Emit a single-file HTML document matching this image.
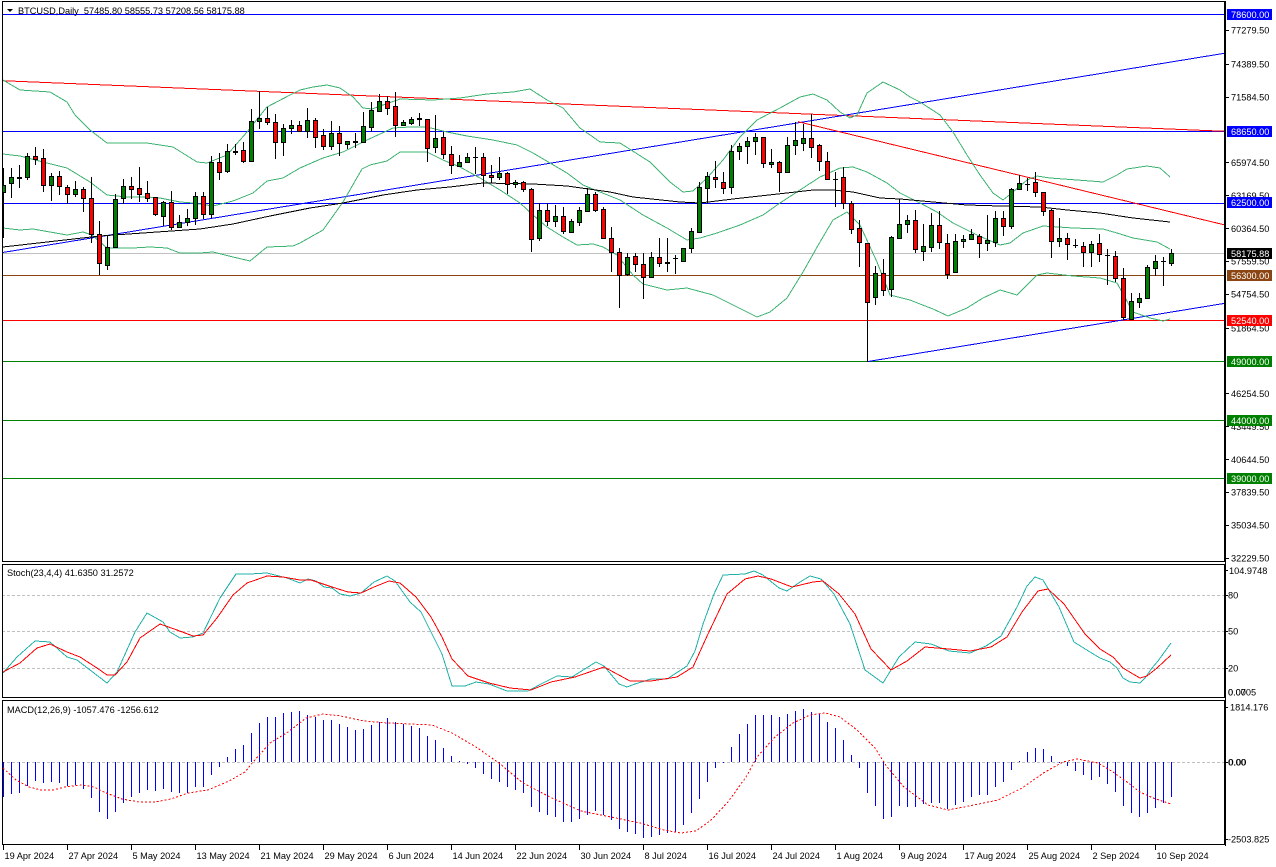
<!DOCTYPE html>
<html><head><meta charset="utf-8"><style>
html,body{margin:0;padding:0;background:#fff;}
svg{display:block;}
text{font-family:"Liberation Sans",Arial,sans-serif;font-size:9.2px;fill:#000;}
.w{fill:#fff;}
</style></head><body>
<svg width="1276" height="867" viewBox="0 0 1276 867" xmlns="http://www.w3.org/2000/svg">
<defs>
<clipPath id="cm"><rect x="2" y="1" width="1223" height="561"/></clipPath>
<clipPath id="cs"><rect x="2" y="564" width="1223" height="134"/></clipPath>
<clipPath id="cd"><rect x="2" y="700" width="1223" height="145"/></clipPath>
</defs>
<rect width="1276" height="867" fill="#fff"/>

<!-- MAIN PANEL -->
<g clip-path="url(#cm)" shape-rendering="crispEdges" fill="none" stroke-width="1">
<line x1="2" y1="14.5" x2="1225" y2="14.5" stroke="#0000ff"/>
<line x1="2" y1="131.5" x2="1225" y2="131.5" stroke="#0000ff"/>
<line x1="2" y1="203.5" x2="1225" y2="203.5" stroke="#0000ff"/>
<line x1="2" y1="253.5" x2="1225" y2="253.5" stroke="#c0c0c0"/>
<line x1="2" y1="275.5" x2="1225" y2="275.5" stroke="#8b4513"/>
<line x1="2" y1="320.5" x2="1225" y2="320.5" stroke="#ff0000"/>
<line x1="2" y1="361.5" x2="1225" y2="361.5" stroke="#008000"/>
<line x1="2" y1="420.5" x2="1225" y2="420.5" stroke="#008000"/>
<line x1="2" y1="478.5" x2="1225" y2="478.5" stroke="#008000"/>
<line x1="2" y1="80.7" x2="1225" y2="131.3" stroke="#ff0000"/>
<line x1="2" y1="252.6" x2="1225" y2="53.2" stroke="#0000ff"/>
<line x1="798" y1="121.7" x2="1225" y2="225" stroke="#ff0000"/>
<line x1="868" y1="361.5" x2="1225" y2="303.3" stroke="#0000ff"/>

<polyline stroke="#3cb371" points="3,80 20,90 50,92 67,102 75,115 90,130 107,143 147,143 173,147 197,162 207,163 227,155 247,132 267,107 290,95 300,90 313,87 327,85 340,88 353,97 363,108 372,109 383,105 400,99 433,100 460,98 487,94 513,92 530,89 547,100 563,108 580,128 593,137 600,142 620,143 650,162 670,182 683,192 693,191 707,178 723,160 740,137 757,120 780,108 800,97 813,94 827,100 840,112 850,118 857,115 867,93 883,82 900,90 910,97 920,102 940,115 953,132 967,155 980,175 993,193 1003,200 1013,192 1027,180 1037,176 1050,178 1077,180 1103,182 1117,175 1127,169 1147,166 1160,168 1170,177"/>
<polyline stroke="#3cb371" points="3,154 20,156 43,162 67,168 90,182 107,195 127,197 147,197 160,198 180,202 193,203 213,206 233,201 253,193 267,181 283,178 300,168 323,158 343,152 367,140 393,128 410,127 427,127 447,132 467,136 493,140 517,145 533,153 550,163 567,173 583,185 600,192 620,200 643,215 667,228 687,240 700,238 717,233 740,225 763,215 780,203 800,190 820,177 840,168 853,167 867,172 887,183 900,193 920,203 937,212 953,223 977,235 1000,245 1010,243 1023,233 1043,226 1073,228 1103,229 1117,233 1133,238 1157,242 1170,249"/>
<polyline stroke="#3cb371" points="3,228 20,230 33,229 50,232 67,235 83,232 92,235 107,248 133,248 150,247 167,248 180,253 200,253 213,252 233,257 250,261 267,247 293,246 300,243 323,230 343,202 362,169 370,165 387,161 400,152 427,152 443,160 460,167 480,178 500,190 520,203 533,215 547,227 563,237 577,245 593,244 603,247 617,255 633,275 643,284 667,290 687,288 713,295 733,305 757,317 770,312 787,298 803,272 820,242 833,220 847,212 860,225 877,262 890,295 910,300 920,304 933,309 948,316 967,308 983,298 1000,290 1017,295 1027,285 1037,275 1047,273 1073,276 1100,278 1117,283 1133,312 1150,318 1163,321 1170,319"/>
<polyline stroke="#000" points="3,247 100,236 200,229 233,224 270,216 310,208 343,203 383,195 417,190 450,187 483,183 533,184 567,186 610,192 633,197 680,202 700,203 733,199 760,196 787,193 813,190 833,190 853,192 880,198 900,199 933,202 967,205 1000,206 1040,207 1067,210 1100,213 1133,218 1170,222"/>

<!-- wicks -->
<path stroke="#000" d="M3.5 168V238M11.5 168V198M19.5 165V188M27.5 153V180M35.5 147V165M43.5 149V192M51.5 173V201M59.5 171V195M67.5 185V204M75.5 181V197M83.5 187V212M91.5 177V243M99.5 221V275M107.5 236V270M115.5 194V248M123.5 179V204M131.5 177V199M139.5 167V202M147.5 181V202M155.5 197V216M163.5 201V226M171.5 191V230M179.5 215V228M187.5 209V226M195.5 192V225M203.5 192V219M211.5 156V218M219.5 153V180M227.5 144V173M235.5 144V155M243.5 142V163M251.5 109V162M259.5 91V129M267.5 107V125M275.5 114V159M283.5 124V156M291.5 120V134M299.5 121V132M307.5 108V138M315.5 118V148M323.5 129V150M331.5 121V150M339.5 126V156M347.5 141V149M355.5 133V148M363.5 112V143M371.5 102V132M379.5 94V112M387.5 96V115M395.5 92V137M403.5 120V125M411.5 117V125M419.5 113V126M427.5 119V162M435.5 115V153M443.5 132V159M451.5 146V174M459.5 155V167M467.5 153V163M475.5 147V174M483.5 153V187M491.5 165V183M499.5 157V180M507.5 172V194M515.5 180V188M523.5 181V192M531.5 188V252M539.5 203V241M547.5 203V226M555.5 205V227M563.5 207V234M571.5 219V232M579.5 207V226M587.5 188V212M595.5 192V212M603.5 207V238M611.5 227V272M619.5 248V308M627.5 253V276M635.5 253V272M643.5 253V299M651.5 252V277M659.5 238V267M667.5 238V272M675.5 255V274M683.5 248V262M691.5 228V253M699.5 182V232M707.5 172V204M715.5 161V188M723.5 172V194M731.5 145V194M739.5 143V160M747.5 137V164M755.5 133V155M763.5 137V168M771.5 149V168M779.5 161V192M787.5 137V172M795.5 122V155M803.5 124V151M811.5 114V158M819.5 144V171M827.5 152V180M835.5 172V207M843.5 167V209M851.5 201V234M859.5 220V267M867.5 243V362M875.5 266V305M883.5 259V296M891.5 236V297M899.5 199V239M907.5 215V233M915.5 210V253M923.5 224V261M931.5 213V252M939.5 211V249M947.5 234V279M955.5 234V272M963.5 235V248M971.5 229V240M979.5 234V258M987.5 215V251M995.5 211V247M1003.5 211V236M1011.5 188V229M1019.5 175V189M1027.5 178V191M1035.5 172V197M1043.5 192V216M1051.5 209V258M1059.5 218V247M1067.5 233V260M1075.5 239V248M1083.5 242V267M1091.5 241V267M1099.5 234V262M1107.5 249V285M1115.5 251V282M1123.5 268V320M1131.5 293V320M1139.5 293V308M1147.5 265V299M1155.5 255V276M1163.5 257V286M1171.5 249V266"/>
<!-- dojis -->
<path stroke="#000" d="M473 157.5h5M673 258.5h5M833 179.5h5M1025 184.5h5M1073 245.5h5M1105 255.5h5M1161 261.5h5"/>
<g transform="translate(0,0.5)">
<!-- green bodies -->
<path fill="#008000" stroke="#000" d="M1.5 185h4v7h-4zM9.5 177h4v6h-4zM17.5 177h4v1h-4zM25.5 156h4v21h-4zM49.5 176h4v9h-4zM73.5 189h4v5h-4zM105.5 247h4v18h-4zM113.5 199h4v48h-4zM121.5 186h4v12h-4zM161.5 202h4v14h-4zM177.5 222h4v5h-4zM185.5 218h4v4h-4zM193.5 196h4v22h-4zM209.5 162h4v52h-4zM225.5 151h4v20h-4zM233.5 151h4v1h-4zM249.5 121h4v40h-4zM257.5 118h4v3h-4zM281.5 128h4v14h-4zM289.5 125h4v3h-4zM305.5 120h4v11h-4zM329.5 133h4v13h-4zM345.5 141h4v3h-4zM353.5 141h4v1h-4zM361.5 126h4v16h-4zM369.5 110h4v17h-4zM377.5 101h4v10h-4zM401.5 122h4v3h-4zM409.5 119h4v4h-4zM433.5 138h4v9h-4zM457.5 162h4v4h-4zM465.5 157h4v5h-4zM497.5 173h4v4h-4zM513.5 182h4v2h-4zM537.5 210h4v28h-4zM553.5 216h4v5h-4zM569.5 221h4v11h-4zM577.5 210h4v12h-4zM585.5 194h4v17h-4zM625.5 257h4v17h-4zM649.5 257h4v20h-4zM665.5 262h4v1h-4zM681.5 248h4v13h-4zM689.5 231h4v17h-4zM697.5 187h4v45h-4zM705.5 176h4v12h-4zM729.5 151h4v36h-4zM737.5 146h4v5h-4zM745.5 141h4v5h-4zM753.5 137h4v4h-4zM769.5 162h4v2h-4zM785.5 145h4v27h-4zM793.5 140h4v5h-4zM801.5 138h4v5h-4zM873.5 273h4v24h-4zM889.5 237h4v52h-4zM897.5 224h4v14h-4zM905.5 220h4v4h-4zM921.5 246h4v5h-4zM929.5 225h4v22h-4zM953.5 241h4v31h-4zM961.5 239h4v2h-4zM969.5 234h4v5h-4zM985.5 240h4v3h-4zM993.5 218h4v24h-4zM1009.5 189h4v37h-4zM1017.5 183h4v6h-4zM1057.5 238h4v3h-4zM1089.5 244h4v8h-4zM1129.5 301h4v18h-4zM1137.5 298h4v4h-4zM1145.5 267h4v31h-4zM1153.5 261h4v7h-4zM1169.5 253h4v10h-4z"/>
<!-- red bodies -->
<path fill="#ff0000" stroke="#000" d="M33.5 156h4v3h-4zM41.5 158h4v27h-4zM57.5 176h4v10h-4zM65.5 187h4v7h-4zM81.5 189h4v9h-4zM89.5 198h4v36h-4zM97.5 234h4v29h-4zM129.5 186h4v3h-4zM137.5 188h4v6h-4zM145.5 193h4v5h-4zM153.5 197h4v17h-4zM169.5 202h4v25h-4zM201.5 196h4v18h-4zM217.5 162h4v10h-4zM241.5 150h4v11h-4zM265.5 118h4v4h-4zM273.5 122h4v20h-4zM297.5 125h4v6h-4zM313.5 120h4v17h-4zM321.5 135h4v11h-4zM337.5 133h4v10h-4zM385.5 101h4v7h-4zM393.5 106h4v19h-4zM417.5 118h4v1h-4zM425.5 119h4v29h-4zM441.5 137h4v17h-4zM449.5 154h4v11h-4zM481.5 157h4v18h-4zM489.5 175h4v2h-4zM505.5 173h4v11h-4zM521.5 182h4v7h-4zM529.5 189h4v50h-4zM545.5 210h4v11h-4zM561.5 216h4v15h-4zM593.5 194h4v16h-4zM601.5 209h4v29h-4zM609.5 238h4v14h-4zM617.5 252h4v23h-4zM633.5 256h4v8h-4zM641.5 264h4v13h-4zM657.5 257h4v6h-4zM713.5 177h4v2h-4zM721.5 182h4v6h-4zM761.5 137h4v26h-4zM777.5 162h4v10h-4zM809.5 138h4v9h-4zM817.5 145h4v16h-4zM825.5 161h4v18h-4zM841.5 177h4v26h-4zM849.5 203h4v26h-4zM857.5 228h4v14h-4zM865.5 243h4v59h-4zM881.5 273h4v17h-4zM913.5 220h4v29h-4zM937.5 225h4v17h-4zM945.5 243h4v31h-4zM977.5 236h4v7h-4zM1001.5 218h4v8h-4zM1033.5 182h4v10h-4zM1041.5 192h4v19h-4zM1049.5 210h4v31h-4zM1065.5 238h4v6h-4zM1081.5 246h4v6h-4zM1097.5 243h4v11h-4zM1113.5 256h4v22h-4zM1121.5 278h4v39h-4z"/>
</g>
</g>

<!-- header -->
<polygon points="7,9 13,9 10,12" fill="#000"/>
<text x="18" y="14" style="white-space:pre">BTCUSD,Daily  57485.80 58555.73 57208.56 58175.88</text>

<!-- STOCH PANEL -->
<g clip-path="url(#cs)" fill="none" stroke-width="1" shape-rendering="crispEdges">
<path stroke="#c0c0c0" stroke-dasharray="3 2" d="M2 595.5H1225M2 631.5H1225M2 668.5H1225"/>
<polyline stroke="#20b2aa" points="3,673 17,657 35,641 50,642 67,657 77,660 90,670 107,683 117,672 135,632 147,613 163,622 170,632 180,638 193,637 203,633 220,598 236,574 250,574 267,573 287,578 300,583 308,579 316,581 324,587 332,588 340,594 350,596 361,593 374,582 387,576 395,581 410,602 421,612 431,632 442,654 452,686 465,686 476,682 489,684 507,691 528,691 541,684 557,676 572,677 596,662 604,666 619,684 627,687 635,684 651,679 667,679 687,666 695,651 703,624 714,594 723,575 745,574 754,571 763,575 779,588 787,591 800,582 810,576 821,579 834,594 850,624 865,670 883,683 899,657 915,642 931,644 949,651 970,653 986,646 1001,636 1017,607 1027,586 1035,577 1043,580 1059,607 1074,642 1090,652 1100,658 1110,662 1117,668 1123,678 1130,682 1140,683 1145,678 1152,668 1158,661 1171,643"/>
<polyline stroke="#ff0000" points="3,672 20,663 37,648 50,644 67,652 80,657 97,668 107,675 115,675 127,662 140,638 160,624 177,630 193,636 203,635 217,618 233,595 247,583 267,576 283,577 300,580 311,580 332,587 348,592 361,593 374,587 389,581 400,583 416,597 431,617 442,637 452,659 468,676 489,683 510,688 531,690 551,682 575,677 604,667 630,681 651,681 677,677 693,667 708,634 727,594 745,579 758,576 771,579 792,587 813,582 823,581 839,594 855,614 871,649 891,670 907,661 925,647 949,649 970,651 991,647 1007,637 1022,612 1038,591 1048,589 1064,604 1085,634 1100,649 1113,657 1123,668 1133,674 1140,678 1147,676 1157,668 1171,655"/>
</g>
<text x="7" y="576">Stoch(23,4,4) 41.6350 31.2572</text>

<!-- MACD PANEL -->
<g clip-path="url(#cd)" fill="none" stroke-width="1" shape-rendering="crispEdges">
<path stroke="#c0c0c0" stroke-dasharray="3 2" d="M2 762.5H1225"/>
<path stroke="#0000ff" d="M3.5 762V797M11.5 762V794M19.5 762V793M27.5 762V786M35.5 762V781M43.5 762V783M51.5 762V782M59.5 762V783M67.5 762V786M75.5 762V785M83.5 762V789M91.5 762V798M99.5 762V812M107.5 762V819M115.5 762V812M123.5 762V803M131.5 762V797M139.5 762V793M147.5 762V790M155.5 762V791M163.5 762V789M171.5 762V792M179.5 762V793M187.5 762V793M195.5 762V787M203.5 762V787M211.5 762V775M219.5 762V767M227.5 762V757M235.5 762V749M243.5 762V745M251.5 762V733M259.5 762V723M267.5 762V717M275.5 762V717M283.5 762V713M291.5 762V712M299.5 762V711M307.5 762V715M315.5 762V717M323.5 762V720M331.5 762V720M339.5 762V724M347.5 762V727M355.5 762V730M363.5 762V729M371.5 762V725M379.5 762V722M387.5 762V718M395.5 762V722M403.5 762V724M411.5 762V726M419.5 762V728M427.5 762V736M435.5 762V740M443.5 762V748M451.5 762V756M459.5 762V761M467.5 762V764M475.5 762V768M483.5 762V774M491.5 762V779M499.5 762V782M507.5 762V787M515.5 762V790M523.5 762V793M531.5 762V807M539.5 762V812M547.5 762V815M555.5 762V817M563.5 762V822M571.5 762V822M579.5 762V819M587.5 762V815M595.5 762V811M603.5 762V815M611.5 762V820M619.5 762V829M627.5 762V832M635.5 762V834M643.5 762V838M651.5 762V837M659.5 762V835M667.5 762V833M675.5 762V832M683.5 762V825M691.5 762V813M699.5 762V799M707.5 762V782M715.5 762V768M723.5 762V763M731.5 762V747M739.5 762V734M747.5 762V724M755.5 762V715M763.5 762V715M771.5 762V715M779.5 762V717M787.5 762V714M795.5 762V711M803.5 762V709M811.5 762V712M819.5 762V714M827.5 762V722M835.5 762V728M843.5 762V740M851.5 762V755M859.5 762V768M867.5 762V793M875.5 762V806M883.5 762V819M891.5 762V817M899.5 762V806M907.5 762V807M915.5 762V807M923.5 762V804M931.5 762V803M939.5 762V803M947.5 762V809M955.5 762V805M963.5 762V802M971.5 762V797M979.5 762V795M987.5 762V795M995.5 762V787M1003.5 762V782M1011.5 762V770M1019.5 762V761M1027.5 762V752M1035.5 762V748M1043.5 762V749M1051.5 762V756M1059.5 762V763M1067.5 762V766M1075.5 762V771M1083.5 762V775M1091.5 762V780M1099.5 762V777M1107.5 762V784M1115.5 762V792M1123.5 762V806M1131.5 762V813M1139.5 762V817M1147.5 762V813M1155.5 762V808M1163.5 762V803M1171.5 762V797"/>
<polyline stroke="#ff0000" stroke-dasharray="2 2" points="3,768 16,780 29,787 41,790 53,790 65,787 82,785 94,787 106,793 122,799 139,802 155,802 171,799 188,793 208,790 229,781 245,772 253,762 270,743 288,732 306,718 323,714 341,716 364,721 388,723 411,724 432,725 452,733 476,747 499,763 523,783 552,798 581,811 611,817 640,823 664,830 681,833 696,831 711,820 728,802 746,777 757,757 775,737 793,723 810,715 825,713 840,717 857,730 875,748 887,767 904,787 928,805 948,810 969,806 998,800 1022,788 1045,772 1063,762 1077,759 1098,763 1113,772 1127,782 1140,792 1153,798 1171,804"/>
</g>
<text x="7" y="713">MACD(12,26,9) -1057.476 -1256.612</text>

<!-- frames -->
<g fill="none" stroke="#000" stroke-width="1" shape-rendering="crispEdges">
<rect x="2.5" y="1.5" width="1222" height="560"/>
<rect x="2.5" y="564.5" width="1222" height="133"/>
<rect x="2.5" y="700.5" width="1222" height="144"/>
<path d="M1225.5 1V846"/>
<path d="M1225 30.5h4M1225 64.5h4M1225 97.5h4M1225 162.5h4M1225 195.5h4M1225 228.5h4M1225 261.5h4M1225 294.5h4M1225 328.5h4M1225 393.5h4M1225 426.5h4M1225 459.5h4M1225 492.5h4M1225 525.5h4M1225 558.5h4M1225 570.5h3M1225 595.5h3M1225 631.5h3M1225 668.5h3M1225 707.5h3M1225 762.5h3M1225 839.5h3"/>
<path d="M3.5 845v5M67.5 845v5M131.5 845v5M195.5 845v5M259.5 845v5M323.5 845v5M387.5 845v5M451.5 845v5M515.5 845v5M579.5 845v5M643.5 845v5M707.5 845v5M771.5 845v5M835.5 845v5M899.5 845v5M963.5 845v5M1027.5 845v5M1091.5 845v5M1155.5 845v5"/>
</g>

<!-- right axis main labels -->
<text x="1231" y="33.3">77279.50</text>
<text x="1231" y="67.3">74389.50</text>
<text x="1231" y="100.3">71584.50</text>
<text x="1231" y="165.8">65974.50</text>
<text x="1231" y="198.8">63169.50</text>
<text x="1231" y="231.8">60364.50</text>
<text x="1231" y="264.3">57559.50</text>
<text x="1231" y="297.3">54754.50</text>
<text x="1231" y="331.3">51864.50</text>
<text x="1231" y="396.8">46254.50</text>
<text x="1231" y="429.8">43449.50</text>
<text x="1231" y="462.8">40644.50</text>
<text x="1231" y="495.3">37839.50</text>
<text x="1231" y="528.3">35034.50</text>
<text x="1231" y="561.3">32229.50</text>

<rect x="1227" y="9" width="45" height="11" fill="#0000ff"/><text class="w" x="1231" y="17.8">78600.00</text>
<rect x="1227" y="126" width="45" height="11" fill="#0000ff"/><text class="w" x="1231" y="134.8">68650.00</text>
<rect x="1227" y="197" width="45" height="11" fill="#0000ff"/><text class="w" x="1231" y="205.8">62500.00</text>
<rect x="1227" y="248" width="45" height="11" fill="#000"/><text class="w" x="1231" y="256.8">58175.88</text>
<rect x="1227" y="270" width="45" height="11" fill="#8b4513"/><text class="w" x="1231" y="278.8">56300.00</text>
<rect x="1227" y="315" width="45" height="11" fill="#ff0000"/><text class="w" x="1231" y="323.8">52540.00</text>
<rect x="1227" y="356" width="45" height="11" fill="#008000"/><text class="w" x="1231" y="364.8">49000.00</text>
<rect x="1227" y="415" width="45" height="11" fill="#008000"/><text class="w" x="1231" y="423.8">44000.00</text>
<rect x="1227" y="473" width="45" height="11" fill="#008000"/><text class="w" x="1231" y="481.8">39000.00</text>

<!-- stoch axis -->
<text x="1229" y="574">104.9748</text>
<text x="1228" y="598.5">80</text>
<text x="1228" y="634.5">50</text>
<text x="1228" y="671.5">20</text>
<text x="1228" y="695.5">0.0705</text>
<text x="1228" y="695.5">0.00</text>

<!-- macd axis -->
<text x="1230" y="710.5">1814.176</text>
<text x="1228" y="765.5">0.00</text>
<text x="1228.5" y="765.5">0.00</text>
<text x="1228" y="842.5">-2503.825</text>

<!-- date axis -->
<text x="4.5" y="859">19 Apr 2024</text>
<text x="68.5" y="859">27 Apr 2024</text>
<text x="132.5" y="859">5 May 2024</text>
<text x="196.5" y="859">13 May 2024</text>
<text x="260.5" y="859">21 May 2024</text>
<text x="324.5" y="859">29 May 2024</text>
<text x="388.5" y="859">6 Jun 2024</text>
<text x="452.5" y="859">14 Jun 2024</text>
<text x="516.5" y="859">22 Jun 2024</text>
<text x="580.5" y="859">30 Jun 2024</text>
<text x="644.5" y="859">8 Jul 2024</text>
<text x="708.5" y="859">16 Jul 2024</text>
<text x="772.5" y="859">24 Jul 2024</text>
<text x="836.5" y="859">1 Aug 2024</text>
<text x="900.5" y="859">9 Aug 2024</text>
<text x="964.5" y="859">17 Aug 2024</text>
<text x="1028.5" y="859">25 Aug 2024</text>
<text x="1092.5" y="859">2 Sep 2024</text>
<text x="1156.5" y="859">10 Sep 2024</text>
</svg>
</body></html>
